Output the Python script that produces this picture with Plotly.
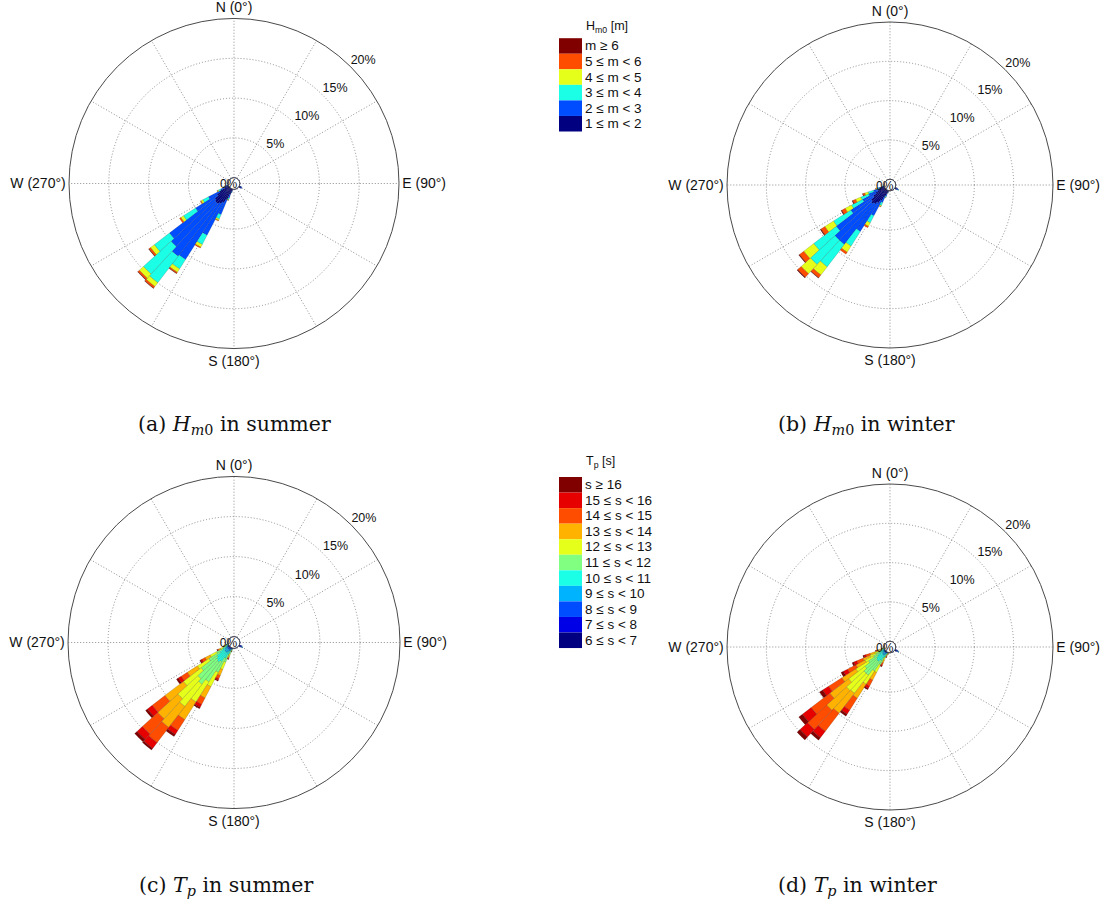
import plotly.graph_objects as go

W, H = 1113, 906

# Direction sectors (bearing of sector centre, degrees clockwise from north), 5° wide
DIRS = [115, 120, 125, 195, 200, 205, 210, 215, 220, 225, 230, 235, 240, 245, 250, 255, 260]
SECTOR_WIDTH = 5

# ---- Significant wave height Hm0, summer (% of time per sector and class) ----
HS_1_2 = [0.2, 0.3, 0.2, 0.3, 0.7, 1.5, 2.0, 2.3, 2.5, 2.5, 2.3, 1.8, 1.3, 0.6, 0.3, 0.15, 0.05]
HS_2_3 = [0.1, 0.15, 0.1, 0.15, 0.5, 2.0, 4.6, 8.3, 8.3, 7.5, 7.2, 3.2, 1.6, 0.5, 0.2, 0.1, 0.03]
HS_3_4 = [0, 0, 0, 0.05, 0.2, 0.6, 1.3, 1.4, 4.2, 4.7, 2.4, 1.8, 0.8, 0.3, 0.1, 0.03, 0]
HS_4_5 = [0, 0, 0, 0, 0.08, 0.2, 0.4, 0.5, 0.6, 0.7, 0.6, 0.4, 0.25, 0.15, 0.05, 0, 0]
HS_5_6 = [0, 0, 0, 0, 0.03, 0.08, 0.12, 0.17, 0.25, 0.25, 0.25, 0.2, 0.1, 0.05, 0.02, 0, 0]
HS_6UP = [0, 0, 0, 0, 0, 0, 0, 0.03, 0.05, 0.05, 0.05, 0, 0, 0, 0, 0, 0]

# ---- Significant wave height Hm0, winter ----
HW_1_2 = [0.2, 0.3, 0.2, 0.2, 0.5, 0.9, 1.5, 2.0, 2.3, 2.5, 2.3, 1.8, 1.3, 0.9, 0.7, 0.35, 0.15]
HW_2_3 = [0.15, 0.2, 0.1, 0.1, 0.3, 0.8, 2.2, 4.3, 6.5, 6.3, 5.6, 3.4, 1.9, 1.3, 0.8, 0.35, 0.1]
HW_3_4 = [0, 0.05, 0, 0.05, 0.15, 0.4, 1.0, 2.2, 3.6, 4.2, 3.6, 2.6, 1.6, 1.1, 0.7, 0.25, 0.05]
HW_4_5 = [0, 0, 0, 0, 0.05, 0.15, 0.5, 0.9, 1.3, 1.6, 1.6, 1.3, 0.9, 0.7, 0.45, 0.15, 0.03]
HW_5_6 = [0, 0, 0, 0, 0, 0.05, 0.2, 0.3, 0.45, 0.6, 0.7, 0.6, 0.5, 0.4, 0.25, 0.08, 0]
HW_6UP = [0, 0, 0, 0, 0, 0, 0, 0, 0.05, 0.1, 0.1, 0.1, 0.1, 0.1, 0.05, 0, 0]

# ---- Peak period Tp, summer ----
TS_6 = [0.1, 0.15, 0.1, 0.01, 0.02, 0.05, 0.05, 0.05, 0.05, 0.05, 0.05, 0.05, 0.04, 0.02, 0.01, 0.01, 0]
TS_7 = [0.15, 0.2, 0.1, 0.02, 0.04, 0.08, 0.1, 0.1, 0.1, 0.1, 0.1, 0.1, 0.07, 0.04, 0.02, 0.02, 0.01]
TS_8 = [0.1, 0.1, 0.05, 0.03, 0.05, 0.1, 0.15, 0.2, 0.2, 0.2, 0.2, 0.15, 0.1, 0.05, 0.03, 0.02, 0.01]
TS_9 = [0.05, 0.05, 0.02, 0.05, 0.1, 0.2, 0.3, 0.45, 0.5, 0.45, 0.4, 0.3, 0.2, 0.1, 0.05, 0.03, 0.02]
TS_10 = [0, 0.02, 0, 0.08, 0.2, 0.5, 0.9, 1.3, 1.5, 1.4, 1.2, 0.8, 0.45, 0.2, 0.1, 0.05, 0.02]
TS_11 = [0, 0, 0, 0.1, 0.35, 1.0, 2.0, 3.0, 3.5, 3.2, 2.5, 1.6, 0.9, 0.35, 0.15, 0.06, 0.02]
TS_12 = [0, 0, 0, 0.09, 0.3, 1.0, 2.0, 3.0, 3.5, 3.4, 2.8, 1.7, 0.9, 0.35, 0.14, 0.05, 0.01]
TS_13 = [0, 0, 0, 0.07, 0.22, 0.8, 1.6, 2.6, 3.3, 3.4, 2.9, 1.5, 0.7, 0.25, 0.1, 0.03, 0.01]
TS_14 = [0, 0, 0, 0.03, 0.13, 0.45, 0.9, 1.6, 2.4, 2.6, 2.0, 0.9, 0.45, 0.15, 0.06, 0.02, 0]
TS_15 = [0, 0, 0, 0.02, 0.06, 0.2, 0.4, 0.6, 0.9, 0.9, 0.75, 0.45, 0.2, 0.06, 0.03, 0.01, 0]
TS_16UP = [0, 0, 0, 0, 0.03, 0.12, 0.2, 0.3, 0.25, 0.4, 0.3, 0.25, 0.09, 0.03, 0.01, 0, 0]

# ---- Peak period Tp, winter ----
TW_6 = [0.1, 0.15, 0.1, 0, 0.01, 0.01, 0.02, 0.03, 0.03, 0.03, 0.03, 0.03, 0.02, 0.02, 0.01, 0.01, 0]
TW_7 = [0.15, 0.2, 0.1, 0.01, 0.01, 0.02, 0.04, 0.06, 0.07, 0.07, 0.07, 0.06, 0.04, 0.03, 0.02, 0.01, 0.01]
TW_8 = [0.1, 0.15, 0.05, 0.01, 0.02, 0.04, 0.08, 0.12, 0.15, 0.15, 0.12, 0.1, 0.08, 0.06, 0.04, 0.02, 0.01]
TW_9 = [0.05, 0.05, 0.02, 0.01, 0.03, 0.08, 0.2, 0.3, 0.35, 0.35, 0.3, 0.25, 0.18, 0.13, 0.08, 0.04, 0.01]
TW_10 = [0, 0.02, 0, 0.02, 0.06, 0.18, 0.5, 0.8, 1.0, 1.0, 0.9, 0.7, 0.45, 0.32, 0.2, 0.08, 0.03]
TW_11 = [0, 0, 0, 0.04, 0.12, 0.35, 1.0, 1.6, 2.2, 2.2, 1.9, 1.4, 0.9, 0.65, 0.42, 0.17, 0.06]
TW_12 = [0, 0, 0, 0.05, 0.14, 0.4, 1.1, 2.0, 2.9, 3.0, 2.6, 1.9, 1.2, 0.85, 0.55, 0.23, 0.08]
TW_13 = [0, 0, 0, 0.05, 0.14, 0.4, 1.1, 2.1, 3.2, 3.4, 3.0, 2.1, 1.3, 0.95, 0.62, 0.26, 0.09]
TW_14 = [0, 0, 0, 0.04, 0.1, 0.3, 0.85, 1.8, 2.9, 3.3, 3.0, 2.0, 1.2, 0.85, 0.55, 0.22, 0.07]
TW_15 = [0, 0, 0, 0.02, 0.05, 0.15, 0.35, 0.6, 1.0, 1.3, 1.4, 0.9, 0.6, 0.42, 0.27, 0.11, 0.03]
TW_16UP = [0, 0, 0, 0, 0.02, 0.07, 0.16, 0.29, 0.4, 0.5, 0.58, 0.46, 0.33, 0.22, 0.14, 0.05, 0.01]

# Class labels (low to high) and jet-style colours
HM0_CLASSES = ["1 ≤ m < 2", "2 ≤ m < 3", "3 ≤ m < 4", "4 ≤ m < 5", "5 ≤ m < 6", "m ≥ 6"]
HM0_COLORS = ["#000080", "#004DFF", "#1AFFE6", "#E6FF1A", "#FF4D00", "#800000"]
TP_CLASSES = ["6 ≤ s < 7", "7 ≤ s < 8", "8 ≤ s < 9", "9 ≤ s < 10", "10 ≤ s < 11", "11 ≤ s < 12",
              "12 ≤ s < 13", "13 ≤ s < 14", "14 ≤ s < 15", "15 ≤ s < 16", "s ≥ 16"]
TP_COLORS = ["#000080", "#0000E6", "#004DFF", "#00B3FF", "#1AFFE6", "#80FF80",
             "#E6FF1A", "#FFB300", "#FF4D00", "#E60000", "#800000"]

HM0_SUMMER = [HS_1_2, HS_2_3, HS_3_4, HS_4_5, HS_5_6, HS_6UP]
HM0_WINTER = [HW_1_2, HW_2_3, HW_3_4, HW_4_5, HW_5_6, HW_6UP]
TP_SUMMER = [TS_6, TS_7, TS_8, TS_9, TS_10, TS_11, TS_12, TS_13, TS_14, TS_15, TS_16UP]
TP_WINTER = [TW_6, TW_7, TW_8, TW_9, TW_10, TW_11, TW_12, TW_13, TW_14, TW_15, TW_16UP]

RING_TICKS = [5, 10, 15, 20]
COMPASS = {0: "N (0°)", 90: "E (90°)", 180: "S (180°)", 270: "W (270°)"}

SANS = "Liberation Sans, Arial, sans-serif"
SERIF = "DejaVu Serif, serif"
GRID = "#8e8e8e"
GRID_DASH = "1px,2px"

# subplot id, centre x/y (px), radius (px), data, colours, caption
PANELS = [
    ("polar", 234, 183.5, 165, HM0_SUMMER, HM0_COLORS,
     "(a) <i>H</i><sub><i>m</i>0</sub> in summer", 136, 425),
    ("polar2", 890, 185, 163, HM0_WINTER, HM0_COLORS,
     "(b) <i>H</i><sub><i>m</i>0</sub> in winter", 776, 425),
    ("polar3", 234, 642.5, 166, TP_SUMMER, TP_COLORS,
     "(c) <i>T</i><sub><i>p</i></sub> in summer", 137, 886),
    ("polar4", 890, 647, 163, TP_WINTER, TP_COLORS,
     "(d) <i>T</i><sub><i>p</i></sub> in winter", 776, 886),
]

fig = go.Figure()
layout_polars = {}
annotations = []
shapes = []

for pid, cx, cy, R, classes, colors, caption, cap_x, cap_y in PANELS:
    for values, color in zip(classes, colors):
        fig.add_trace(go.Barpolar(
            r=values, theta=DIRS, width=SECTOR_WIDTH, subplot=pid,
            marker=dict(color=color, line=dict(color="rgba(0,0,0,0.3)", width=0.5)),
            showlegend=False, hoverinfo="skip"))
    # inner "0%" circle
    fig.add_trace(go.Scatterpolar(
        r=[0] * 73, theta=list(range(0, 361, 5)), mode="lines", subplot=pid,
        line=dict(color="#2a2a85", width=1), showlegend=False, hoverinfo="skip"))
    # ring labels
    fig.add_trace(go.Scatterpolar(
        r=RING_TICKS, theta=[45] * len(RING_TICKS), mode="text", subplot=pid,
        text=[f"{v}%" for v in RING_TICKS], textposition="top right",
        textfont=dict(family=SANS, size=12.5, color="#111"), showlegend=False, hoverinfo="skip"))
    fig.add_trace(go.Scatterpolar(
        r=[0], theta=[250], mode="text", subplot=pid, text=["0%"],
        textposition="middle center", textfont=dict(family=SANS, size=12, color="#111"),
        showlegend=False, hoverinfo="skip"))

    angles = list(range(0, 360, 30))
    layout_polars[pid] = dict(
        domain=dict(x=[(cx - R) / W, (cx + R) / W], y=[1 - (cy + R) / H, 1 - (cy - R) / H]),
        bgcolor="white",
        hole=0.035,
        barmode="stack",
        angularaxis=dict(
            rotation=90, direction="clockwise", tickmode="array",
            tickvals=angles, ticktext=[COMPASS.get(a, "") for a in angles],
            ticks="", showline=True, linecolor="#4a4a4a", linewidth=1,
            showgrid=True, gridcolor=GRID, griddash=GRID_DASH, gridwidth=1,
            tickfont=dict(family=SANS, size=14, color="#111")),
        radialaxis=dict(
            range=[0, 20], tickmode="array", tickvals=RING_TICKS[:-1],
            showticklabels=False, ticks="", showline=False,
            showgrid=True, gridcolor=GRID, griddash=GRID_DASH, gridwidth=1),
    )
    annotations.append(dict(
        text=caption, x=cap_x / W, y=1 - cap_y / H, xref="paper", yref="paper",
        xanchor="left", yanchor="middle", showarrow=False,
        font=dict(family=SERIF, size=20.5, color="#111")))


def add_key(title, labels, colors, top, title_y):
    """Colour key: stacked swatches, highest class on top."""
    box_h = 15.55
    x0, x1 = 559, 582
    for i, (lab, col) in enumerate(zip(labels[::-1], colors[::-1])):
        y_top = top + i * box_h
        shapes.append(dict(
            type="rect", xref="paper", yref="paper",
            x0=x0 / W, x1=x1 / W, y0=1 - (y_top + box_h) / H, y1=1 - y_top / H,
            fillcolor=col, line=dict(width=0)))
        annotations.append(dict(
            text=lab, x=583 / W, y=1 - (y_top + box_h / 2) / H, xref="paper", yref="paper",
            xanchor="left", yanchor="middle", showarrow=False,
            font=dict(family=SANS, size=13.5, color="#111")))
    annotations.append(dict(
        text=title, x=584 / W, y=1 - title_y / H, xref="paper", yref="paper",
        xanchor="left", yanchor="middle", showarrow=False,
        font=dict(family=SANS, size=12.5, color="#111")))


add_key("H<sub>m0</sub> [m]", HM0_CLASSES, HM0_COLORS, 38.2, 27)
add_key("T<sub>p</sub> [s]", TP_CLASSES, TP_COLORS, 477, 462)

fig.update_layout(
    width=W, height=H, margin=dict(l=0, r=0, t=0, b=0),
    paper_bgcolor="white", plot_bgcolor="white",
    showlegend=False, annotations=annotations, shapes=shapes,
    **layout_polars)

fig.write_html("out.html")
